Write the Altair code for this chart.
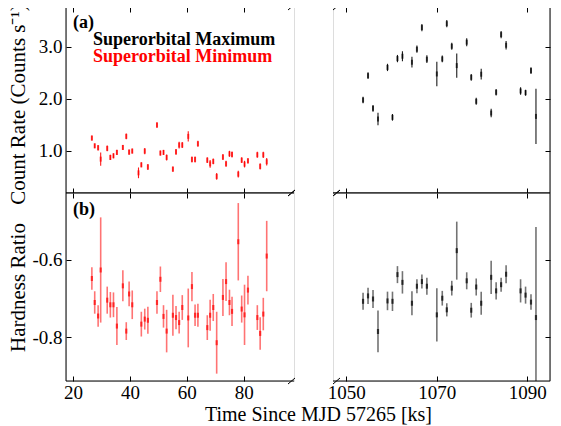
import altair as alt
import pandas as pd

FONT = "Liberation Serif"
RED = "#ff0000"
BLACK = "#000000"

# ---- Superorbital minimum (red, left panels) ----
t_min = [26.6, 27.6, 28.8, 29.7, 32.0, 33.1, 34.2, 35.4, 37.5, 38.7, 39.7, 40.8,
         43.0, 44.0, 45.2, 46.3, 49.5, 50.7, 51.8, 52.9, 55.1, 56.2, 57.3, 58.4,
         60.5, 61.8, 62.9, 63.9, 67.2, 68.2, 69.3, 70.5, 72.7, 73.8, 75.0, 75.9,
         78.1, 79.3, 80.3, 81.5, 84.8, 85.8, 86.9, 88.1]
rate_min = [1.244, 1.096, 1.058, 0.84, 1.046, 0.873, 0.904, 0.969, 1.065, 1.277, 0.975, 0.994,
            0.577, 0.73, 0.994, 0.69, 1.494, 0.956, 0.969, 0.873, 0.648, 0.98, 1.11, 1.11,
            1.277, 0.834, 0.834, 1.135, 0.82, 0.75, 0.796, 0.508, 0.879, 0.75, 0.942, 0.93,
            0.552, 0.82, 0.744, 0.808, 0.923, 0.70, 0.923, 0.79]
rate_min_err = [0.048, 0.045, 0.054, 0.128, 0.054, 0.051, 0.048, 0.051, 0.048, 0.054, 0.051, 0.048,
                0.103, 0.048, 0.058, 0.058, 0.054, 0.048, 0.048, 0.058, 0.051, 0.054, 0.064, 0.058,
                0.099, 0.058, 0.058, 0.058, 0.054, 0.074, 0.054, 0.064, 0.058, 0.058, 0.058, 0.058,
                0.064, 0.054, 0.064, 0.051, 0.058, 0.061, 0.061, 0.074]
hr_min = [-0.648, -0.710, -0.745, -0.626, -0.704, -0.716, -0.716, -0.771, -0.667, -0.784, -0.688, -0.716,
          None, -0.766, -0.753, -0.756, -0.710, -0.650, -0.746, -0.784, -0.743, -0.749, -0.762, -0.723,
          -0.750, -0.669, -0.743, -0.743, -0.775, -0.743, -0.723, -0.814, -0.697, -0.656, -0.710, -0.733,
          -0.553, -0.727, -0.742, -0.678, -0.749, -0.790, -0.740, -0.590]
hr_min_err = [0.029, 0.029, 0.028, 0.136, 0.035, 0.033, 0.032, 0.049, 0.040, 0.023, 0.032, 0.037,
              None, 0.032, 0.027, 0.035, 0.029, 0.033, 0.029, 0.055, 0.053, 0.030, 0.028, 0.032,
              0.076, 0.038, 0.028, 0.030, 0.032, 0.040, 0.035, 0.080, 0.048, 0.050, 0.033, 0.038,
              0.100, 0.035, 0.078, 0.037, 0.032, 0.042, 0.042, 0.091]

# ---- Superorbital maximum (black, right panels) ----
t_max = [1053.7, 1054.8, 1055.9, 1057.0, 1059.1, 1060.2, 1061.3, 1062.4, 1064.5, 1065.6,
         1066.7, 1067.8, 1070.0, 1071.2, 1072.2, 1073.3, 1074.4, 1076.6, 1077.6, 1078.7,
         1079.8, 1082.0, 1083.1, 1084.2, 1085.3, 1088.5, 1089.6, 1090.8, 1091.9]
rate_max = [1.975, 2.443, 1.815, 1.61, 2.60, 1.642, 2.77, 2.815, 2.70, 2.95,
            3.365, 2.758, 2.475, 2.763, 3.44, 3.007, 2.635, 3.085, 2.41, 1.95,
            2.47, 1.725, 2.123, 3.23, 3.026, 2.148, 2.116, 2.54, 1.66]
rate_max_err = [0.064, 0.064, 0.064, 0.122, 0.070, 0.064, 0.070, 0.096, 0.103, 0.070,
                0.070, 0.074, 0.234, 0.064, 0.070, 0.067, 0.231, 0.077, 0.064, 0.067,
                0.103, 0.080, 0.064, 0.070, 0.080, 0.070, 0.058, 0.064, 0.530]
hr_max = [-0.707, -0.693, -0.701, -0.785, -0.706, -0.707, -0.638, -0.658, -0.712, -0.668,
          -0.656, -0.668, -0.742, -0.699, -0.729, -0.673, -0.576, -0.654, -0.730, -0.670,
          -0.712, -0.645, -0.680, -0.664, -0.637, -0.680, -0.691, -0.709, -0.749]
hr_max_err = [0.022, 0.021, 0.023, 0.054, 0.024, 0.025, 0.022, 0.029, 0.031, 0.018,
              0.018, 0.022, 0.069, 0.019, 0.017, 0.019, 0.075, 0.022, 0.019, 0.022,
              0.030, 0.043, 0.022, 0.018, 0.023, 0.030, 0.022, 0.020, 0.234]

# ---- axes ----
x_ticks_left = [20, 40, 60, 80]
x_ticks_right = [1050, 1070, 1090]
rate_ticks = [1.0, 2.0, 3.0]
hr_ticks = [-0.8, -0.6]
x_dom_left = [17.5, 97.7]
x_dom_right = [1047.06, 1095.0]
rate_dom = [0.19, 3.76]
hr_dom = [-0.913, -0.427]

legend_texts = ["Superorbital Maximum", "Superorbital Minimum"]
legend_colors = [BLACK, RED]
panel_labels = ["(a)", "(b)"]
x_title = "Time Since MJD 57265 [ks]"
rate_title = "Count Rate (Counts s\u207b\u00b9)"
hr_title = "Hardness Ratio"

W_L, W_R, H_TOP, H_BOT, GAP = 228, 217, 186, 188, 39
one = pd.DataFrame({"k": [0]})
Y_LABEL_EXPR = "datum.value < 0 ? '-' + format(-datum.value, '.1f') : format(datum.value, '.1f')"
X_LABEL_EXPR = "format(datum.value, 'd')"


def seg(x, x2, y, y2):
    return alt.Chart(one).mark_rule(color="black", strokeWidth=1).encode(
        x=alt.value(x), x2=alt.value(x2), y=alt.value(y), y2=alt.value(y2))


def txt(s, x, y, color):
    return alt.Chart(one).mark_text(
        text=s, align="left", baseline="alphabetic", font=FONT, fontSize=18,
        fontWeight="bold", color=color).encode(x=alt.value(x), y=alt.value(y))


def panel(t, v, e, color, xdom, xticks, ydom, yticks, side, xlabels, ytitle, W, H, top_row,
          extra, title_shift=0):
    rows = [dict(t=a, v=b, lo=b - c, hi=b + c) for a, b, c in zip(t, v, e) if b is not None]
    df = pd.DataFrame(rows)
    xs = alt.Scale(domain=xdom, nice=False, zero=False)
    ys = alt.Scale(domain=ydom, nice=False, zero=False)
    common = dict(offset=-5, tickSize=5, domain=False, grid=False, tickColor="black",
                  tickWidth=1, labelFont=FONT, labelFontSize=19, labelColor="black")
    if xlabels and side == "left":
        x_bottom = alt.Axis(orient="bottom", values=xticks, labels=True, labelPadding=2,
                            labelExpr=X_LABEL_EXPR,
                            title=x_title, titleX=252, titleY=44, titleAlign="center",
                            titleBaseline="alphabetic", titleFont=FONT, titleFontSize=20,
                            titleFontWeight="normal", titleColor="black", **common)
    else:
        x_bottom = alt.Axis(orient="bottom", values=xticks, labels=xlabels, labelPadding=2,
                            labelExpr=X_LABEL_EXPR, title=None, **common)
    x_top = alt.Axis(orient="top", values=xticks, labels=False, title=None, **common)
    if side == "left":
        y_ax = alt.Axis(orient="left", values=yticks, labelExpr=Y_LABEL_EXPR, labelPadding=4,
                        title=ytitle, titleX=-47, titleY=H / 2 + title_shift, titleFont=FONT,
                        titleBaseline="alphabetic", titleAlign="center",
                        titleFontSize=21, titleFontWeight="normal", titleColor="black",
                        **common)
    else:
        y_ax = alt.Axis(orient="right", values=yticks, labels=False, title=None, **common)

    if top_row:
        sw, op, tsz, tth = 1.1, 0.9, 5, 2.0
    else:
        sw, op, tsz, tth = 1.6, 0.55, 5, 2.2

    bars = alt.Chart(df).mark_rule(color=color, strokeWidth=sw, opacity=op, clip=True).encode(
        x=alt.X("t:Q", scale=xs, axis=x_bottom),
        y=alt.Y("lo:Q", scale=ys, axis=y_ax),
        y2="hi:Q")
    centers = alt.Chart(df).mark_tick(color=color, orient="vertical", size=tsz,
                                      thickness=tth, clip=True).encode(
        x=alt.X("t:Q", scale=xs, axis=x_top),
        y=alt.Y("v:Q", scale=ys, axis=None))

    layers = [bars, centers]
    if side == "left":
        layers += [seg(0, 0, 0, H), seg(0, W, 0, 0), seg(0, W, H, H),
                   seg(W - 6, W + 1, 3, -3), seg(W - 6, W + 1, H + 3, H - 3)]
    else:
        layers += [seg(W, W, 0, H), seg(0, W, 0, 0), seg(0, W, H, H),
                   seg(0, 7, 3, -3), seg(0, 7, H + 3, H - 3)]
    layers += extra
    return alt.layer(*layers).resolve_axis(x="independent", y="independent").properties(
        width=W, height=H)


tl = panel(t_min, rate_min, rate_min_err, RED, x_dom_left, x_ticks_left, rate_dom, rate_ticks,
           "left", False, rate_title, W_L, H_TOP, True,
           [txt(panel_labels[0], 7, 21, BLACK), txt(legend_texts[0], 27, 38, legend_colors[0]),
            txt(legend_texts[1], 27, 55, legend_colors[1])], title_shift=4)
tr = panel(t_max, rate_max, rate_max_err, BLACK, x_dom_right, x_ticks_right, rate_dom, rate_ticks,
           "right", False, None, W_R, H_TOP, True, [])
bl = panel(t_min, hr_min, hr_min_err, RED, x_dom_left, x_ticks_left, hr_dom, hr_ticks,
           "left", True, hr_title, W_L, H_BOT, False, [txt(panel_labels[1], 7, 22, BLACK)])
br = panel(t_max, hr_max, hr_max_err, BLACK, x_dom_right, x_ticks_right, hr_dom, hr_ticks,
           "right", True, None, W_R, H_BOT, False, [])

chart = alt.concat(tl, tr, bl, br, columns=2, spacing={"row": 0, "column": GAP},
                   bounds="flush", align="each").properties(
    padding={"left": -2, "top": -5, "right": 0, "bottom": 0},
    background="white",
).configure_view(strokeWidth=0).configure(font=FONT)

chart.save("out.html", embed_options={"renderer": "svg", "actions": False})
